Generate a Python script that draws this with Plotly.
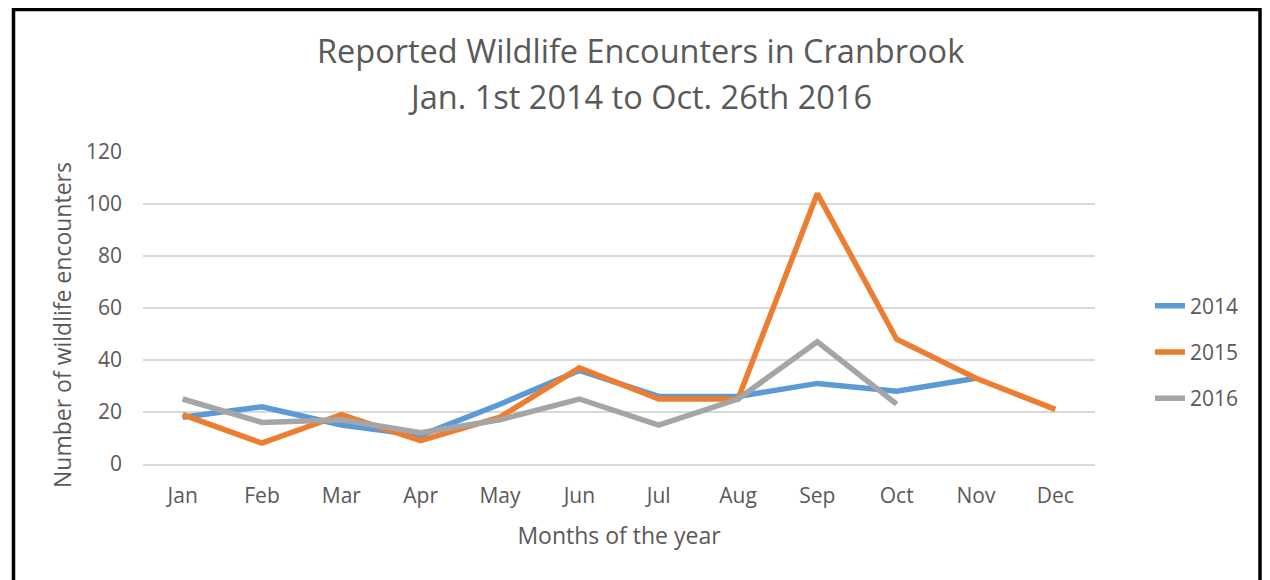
import plotly.graph_objects as go

months = ["Jan", "Feb", "Mar", "Apr", "May", "Jun", "Jul", "Aug", "Sep", "Oct", "Nov", "Dec"]
y2014 = [18, 22, 15, 11, 23, 36, 26, 26, 31, 28, 33, None]
y2015 = [19, 8, 19, 9, 18, 37, 25, 25, 104, 48, 33, 21]
y2016 = [25, 16, 17, 12, 17, 25, 15, 25, 47, 23, None, None]
series_names = ["2014", "2015", "2016"]
series_colors = ["#5B9BD5", "#ED7D31", "#A5A5A5"]
yticks = [0, 20, 40, 60, 80, 100, 120]

FONT = "Open Sans"
TXT = "#595959"

# page body margin offsets the figure by 8px
OFF = 8
W, H = 1270 - OFF, 580 - OFF
L, R, T = 143 - OFF, 175, 152 - OFF
B = H - T - 312
pw = W - L - R
ph = H - T - B

def px_x(x):
    return (x - OFF - L) / pw

def px_y(y):
    return (H - B - (y - OFF)) / ph

fig = go.Figure()
for name, vals, col in zip(series_names, [y2014, y2015, y2016], series_colors):
    fig.add_trace(go.Scatter(
        x=months, y=vals, name=name, mode="lines",
        line=dict(color=col, width=5.5),
        legendgroup=name, connectgaps=False,
    ))

fig.update_layout(
    width=W, height=H,
    margin=dict(l=L, r=R, t=T, b=B),
    paper_bgcolor="white", plot_bgcolor="white",
    font=dict(family=FONT, color=TXT, size=21),
    showlegend=True,
    legend=dict(
        x=px_x(1150), xanchor="left",
        y=px_y(352), yanchor="middle",
        font=dict(size=21, color=TXT, family=FONT),
        tracegroupgap=16, itemwidth=30,
        bgcolor="rgba(0,0,0,0)",
    ),
    xaxis=dict(
        type="category", categoryorder="array", categoryarray=months,
        range=[-0.5, 11.5], showgrid=False, zeroline=False,
        showline=True, linecolor="#d9d9d9", linewidth=1.5,
        ticks="", ticklabelstandoff=12,
        tickfont=dict(size=21, color=TXT, family=FONT),
        title=dict(text="Months of the year", standoff=20,
                   font=dict(size=23, color=TXT, family=FONT)),
    ),
    yaxis=dict(
        range=[0, 120], tickvals=yticks, ticktext=[str(v) for v in yticks],
        showgrid=True, gridcolor="#d9d9d9", gridwidth=1.5,
        zeroline=False, showline=False, ticks="", ticklabelstandoff=20,
        tickfont=dict(size=21, color=TXT, family=FONT),
    ),
)

fig.add_annotation(text="Number of wildlife encounters",
                   xref="paper", yref="paper", x=px_x(62), y=px_y(325),
                   xanchor="center", yanchor="middle", showarrow=False, textangle=-90,
                   font=dict(size=23, color=TXT, family=FONT))

fig.add_annotation(text="Reported Wildlife Encounters in Cranbrook",
                   xref="paper", yref="paper", x=px_x(640), y=px_y(50),
                   xanchor="center", yanchor="middle", showarrow=False,
                   font=dict(size=32.5, color=TXT, family=FONT))
fig.add_annotation(text="Jan. 1st 2014 to Oct. 26th 2016",
                   xref="paper", yref="paper", x=px_x(640), y=px_y(97),
                   xanchor="center", yanchor="middle", showarrow=False,
                   font=dict(size=32.5, color=TXT, family=FONT))

# frame
fig.add_shape(type="rect", xref="paper", yref="paper",
              x0=px_x(13.5), x1=px_x(1260), y0=px_y(640), y1=px_y(9.5),
              line=dict(color="black", width=3.5), fillcolor="rgba(0,0,0,0)", layer="above")

fig.write_html("out.html")
